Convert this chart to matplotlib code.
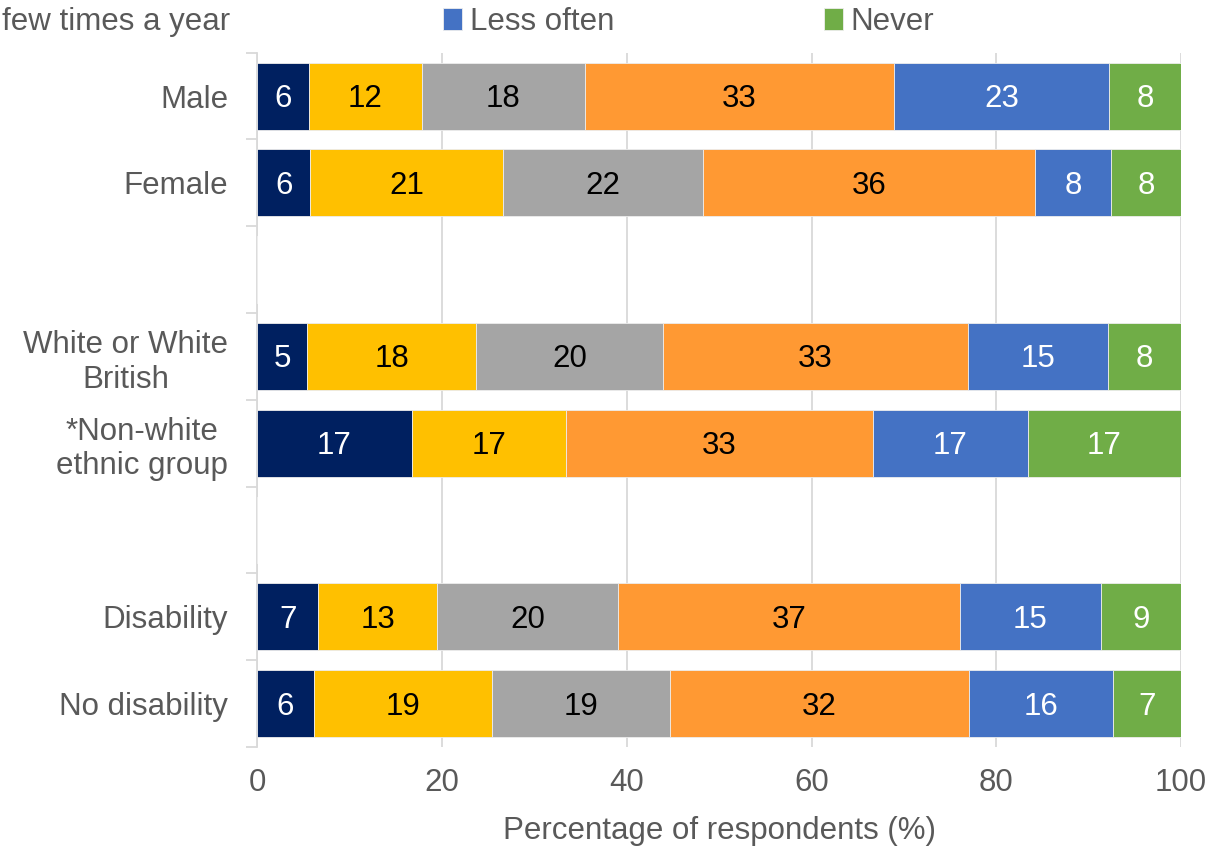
import matplotlib
matplotlib.use("Agg")
import matplotlib.pyplot as plt
import numpy as np

plt.rcParams['font.family'] = ['Liberation Sans', 'DejaVu Sans']

categories = ["Male", "Female", "", "White or White\nBritish", "*Non-white\nethnic group",
              "", "Disability", "No disability"]
series_names = ["Daily", "At least once a week", "At least once a month",
                "A few times a year", "Less often", "Never"]
colors = ["#002060", "#FFC000", "#A5A5A5", "#FF9933", "#4472C4", "#70AD47"]
label_colors = ["white", "black", "black", "black", "white", "white"]

# values per series, one entry per category row (spacer rows are 0)
daily   = [5.6, 5.7, 0, 5.4, 16.7, 0, 6.6, 6.1]
weekly  = [12.2, 20.9, 0, 18.3, 16.7, 0, 12.9, 19.3]
monthly = [17.7, 21.7, 0, 20.2, 0.0, 0, 19.6, 19.3]
yearly  = [33.4, 35.9, 0, 33.0, 33.3, 0, 37.0, 32.3]
less    = [23.3, 8.2, 0, 15.2, 16.7, 0, 15.2, 15.6]
never   = [7.8, 7.6, 0, 7.9, 16.6, 0, 8.7, 7.4]
series = [daily, weekly, monthly, yearly, less, never]

xticks = [0, 20, 40, 60, 80, 100]

W, H = 1214, 846
fig = plt.figure(figsize=(W / 100, H / 100), dpi=100)
ax = fig.add_axes([257.3 / W, 1 - 747 / H, (1181 - 257.3) / W, (747 - 52.7) / H])

y = np.arange(len(categories))
left = np.zeros(len(categories))
containers = []
for vals, name, col, lc in zip(series, series_names, colors, label_colors):
    vals = np.array(vals, dtype=float)
    bc = ax.barh(y, vals, left=left, height=0.77, color=col, label=name,
                 edgecolor="#EDEDED", linewidth=0.6, zorder=3)
    containers.append(bc)
    for yi, v, l in zip(y, vals, left):
        if v > 0:
            ax.text(l + v / 2, yi + 0.035, f"{v:.0f}", ha="center", va="center",
                    color=lc, fontsize=22.5, zorder=4)
    left += vals

ax.set_xlim(0, 100)
ax.set_ylim(len(categories) - 0.5, -0.5)
ax.set_xticks(xticks)
ax.set_xticklabels([str(t) for t in xticks])
ax.xaxis.grid(True, color="#D9D9D9", linewidth=1.3, zorder=0)
ax.set_yticks(y)
ax.set_yticklabels(categories, multialignment="center")
ax.set_yticks(np.arange(-0.5, len(categories)), minor=True)
ax.tick_params(axis="y", which="major", length=0, pad=21, labelsize=22.5, labelcolor="#595959")
ax.tick_params(axis="y", which="minor", length=8, width=1.3, color="#D9D9D9")
ax.tick_params(axis="x", length=0, pad=15, labelsize=22.5, labelcolor="#595959")
for s in ["top", "right", "bottom"]:
    ax.spines[s].set_visible(False)
ax.spines["left"].set_color("#D9D9D9")
ax.spines["left"].set_linewidth(1.3)
ax.set_xlabel("Percentage of respondents (%)", fontsize=22.5, color="#595959", labelpad=13)

# partially visible legend row
fig.text(2 / W, 1 - 22 / H, "few times a year", ha="left", va="center",
         fontsize=22.5, color="#595959")
for idx, xpos in [(4, 443), (5, 824)]:
    lg = fig.legend(handles=[containers[idx]], labels=[series_names[idx]],
                    loc="center left", bbox_to_anchor=(xpos / W, 1 - 22 / H),
                    frameon=False, borderpad=0, borderaxespad=0,
                    handlelength=0.6, handleheight=0.7, handletextpad=0.25,
                    fontsize=22.5, labelcolor="#595959")

fig.savefig("out.png", dpi=100)
